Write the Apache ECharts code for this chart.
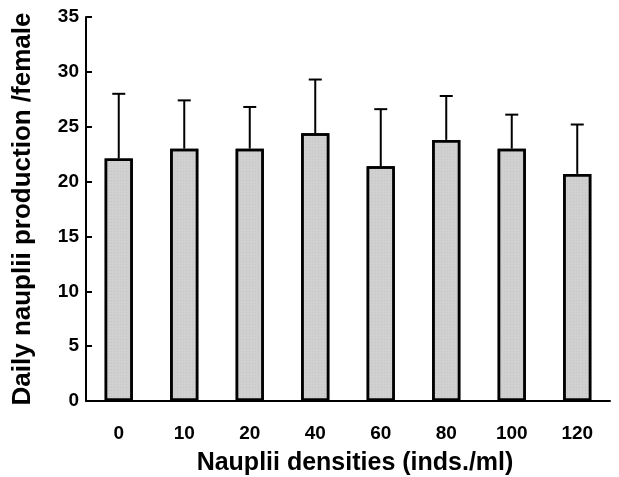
<!DOCTYPE html>
<html>
<head>
<meta charset="utf-8">
<script src="https://cdn.jsdelivr.net/npm/echarts@6/dist/echarts.min.js"></script>
<style>
  html, body { margin: 0; padding: 0; background: #fff; }
  #chart { width: 619px; height: 477px; }
</style>
</head>
<body>
<div id="chart"></div>
<script>
// densities (inds./ml)
const categories = ['0', '10', '20', '40', '60', '80', '100', '120'];
// mean daily nauplii production per female
const means = [22.1, 23.0, 23.0, 24.4, 21.4, 23.8, 23.0, 20.7];
// upper error (SD)
const errors = [5.9, 4.4, 3.8, 4.9, 5.2, 4.0, 3.1, 4.5];
const yTicks = [0, 5, 10, 15, 20, 25, 30, 35];

const font = '"Liberation Sans", Arial, sans-serif';

const errData = means.map((m, i) => [i, m, m + errors[i]]);

const chart = echarts.init(document.getElementById('chart'));

chart.setOption({
  animation: false,
  grid: { left: 86, right: 9, top: 17, bottom: 76, outerBoundsMode: 'none' },
  xAxis: {
    type: 'category',
    data: categories,
    name: 'Nauplii densities (inds./ml)',
    nameLocation: 'middle',
    nameGap: 50,
    nameTextStyle: { fontFamily: font, fontWeight: 'bold', fontSize: 25, color: '#000', padding: [0, 0, 0, 14] },
    axisLine: { lineStyle: { color: '#000', width: 2 } },
    axisTick: { inside: true, length: 6, lineStyle: { color: '#000', width: 2 } },
    axisLabel: { margin: 23, fontFamily: font, fontWeight: 'bold', fontSize: 19, color: '#000' }
  },
  yAxis: {
    type: 'value',
    min: yTicks[0],
    max: yTicks[yTicks.length - 1],
    interval: 5,
    name: 'Daily nauplii production /female',
    nameLocation: 'middle',
    nameGap: 50,
    nameTextStyle: { fontFamily: font, fontWeight: 'bold', fontSize: 26, color: '#000' },
    splitLine: { show: false },
    axisLine: { show: true, lineStyle: { color: '#000', width: 2 } },
    axisTick: { show: true, inside: true, length: 6, lineStyle: { color: '#000', width: 2 } },
    axisLabel: { margin: 7, fontFamily: font, fontWeight: 'bold', fontSize: 19, color: '#000' }
  },
  series: [
    {
      type: 'bar',
      data: means,
      barWidth: '43%',
      itemStyle: {
        color: '#d0d0d0',
        borderColor: '#000',
        borderWidth: 2.5,
        decal: {
          symbol: 'rect',
          symbolSize: 0.5,
          dashArrayX: [1, 2],
          dashArrayY: [1, 2],
          color: 'rgba(80,80,80,0.35)'
        }
      },
      z: 2
    },
    {
      type: 'custom',
      data: errData,
      z: 3,
      renderItem: function (params, api) {
        const x = api.value(0);
        const low = api.coord([x, api.value(1)]);
        const high = api.coord([x, api.value(2)]);
        const half = 6.5;
        const style = { stroke: '#000', lineWidth: 2 };
        return {
          type: 'group',
          children: [
            { type: 'line', shape: { x1: low[0], y1: low[1], x2: high[0], y2: high[1] }, style },
            { type: 'line', shape: { x1: high[0] - half, y1: high[1], x2: high[0] + half, y2: high[1] }, style }
          ]
        };
      }
    }
  ]
});
</script>
</body>
</html>
